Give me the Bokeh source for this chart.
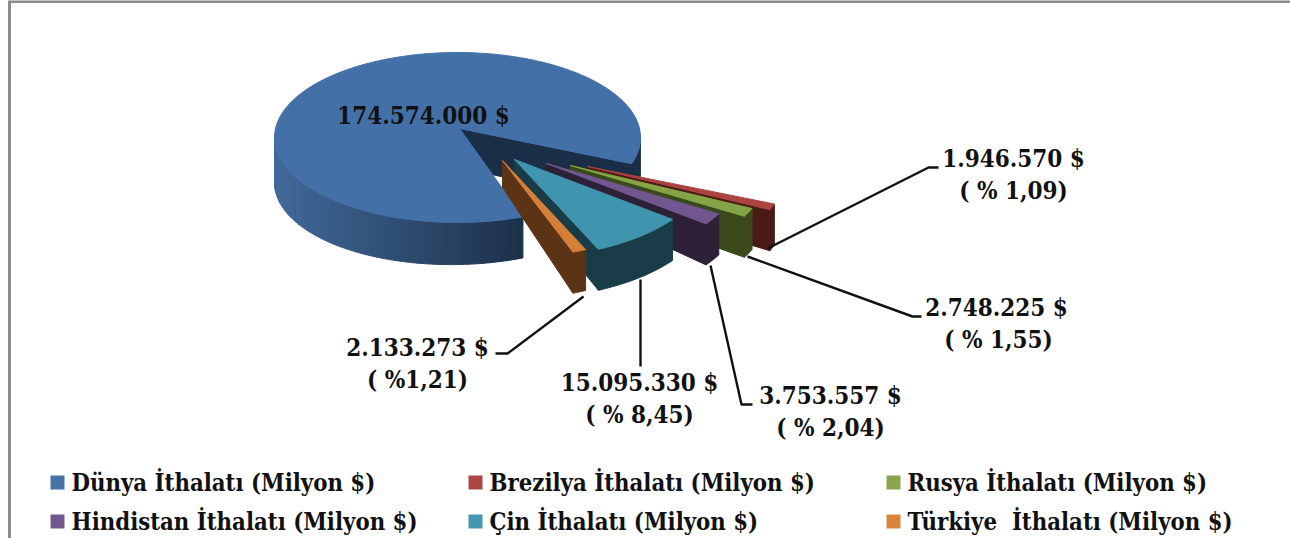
import numpy as np
from bokeh.plotting import figure
from bokeh.models import Range1d
from bokeh.core.properties import value
from bokeh.embed import file_html
from bokeh.resources import INLINE

# ---- data ----
series = ["Dünya İthalatı (Milyon $)", "Brezilya İthalatı (Milyon $)", "Rusya İthalatı (Milyon $)",
          "Hindistan İthalatı (Milyon $)", "Çin İthalatı (Milyon $)", "Türkiye \u00a0İthalatı (Milyon $)"]
values = [174574000, 1946570, 2748225, 3753557, 15095330, 2133273]
top_colors = ["#4470a8", "#a9443f", "#85a446", "#71568f", "#3f95ae", "#d57f37"]
wall_colors = ["#1b2e47", "#4a1a17", "#3a4a1c", "#2d2138", "#193c48", "#5a3415"]
legend_colors = ["#4572a7", "#aa4643", "#89a54e", "#71588f", "#4198af", "#db843d"]
value_labels = ["174.574.000 $", "1.946.570 $", "2.748.225 $", "3.753.557 $", "15.095.330 $", "2.133.273 $"]
share_labels = ["", "( % 1,09)", "( % 1,55)", "( % 2,04)", "( % 8,45)", "( %1,21)"]

# ---- layout (screen-pixel scales) ----
FONT = "DejaVu Serif Condensed"
LABEL_PX = "24px"
rx, ry = 183.0, 85.0
apex0 = np.array([459.0, 128.0])
centre_off = np.array([-2.0, 9.0])
t0 = 18.0
stretch = 1.08
main_trim = 1.2
depth_outer, depth_apex = 41.0, 39.0
explode = {1: (128, 38), 2: (111, 37), 3: (87, 35), 4: (55, 31), 5: (43, 32)}
radial = {1: 1.085, 2: 1.08, 3: 1.07, 4: 1.06, 5: 1.05}
apex_depth = {1: 30, 2: 30, 3: 28, 4: 28, 5: 27}
label_pos = {0: (423, 115), 1: (1013, 158), 2: (996, 307), 3: (830, 395), 4: (639, 382), 5: (417, 347)}
share_pos = {1: (1013, 190), 2: (998, 339), 3: (830, 427), 4: (639, 414), 5: (417, 379)}
leaders = [([767, 928, 938], [248, 167, 167]), ([747, 912, 921], [256, 316, 316]),
           ([710, 741, 752], [265, 404, 404]), ([640, 640], [279, 366]),
           ([583, 507, 495], [296, 353, 353])]
legend_x = [50, 468, 886]
legend_y = [482, 521]

p = figure(width=1290, height=538, output_backend="svg", toolbar_location=None,
           x_range=Range1d(0, 1290), y_range=Range1d(538, 0), min_border=0,
           outline_line_color=None, background_fill_color="white", margin=0)
p.axis.visible = False
p.grid.visible = False

p.line([9, 9], [0, 538], line_color="#8c8c8c", line_width=3)
p.line([8, 1290], [1, 1], line_color="#8c8c8c", line_width=3)

def arc(apex, a, b, k=1.0, n=60):
    t = np.radians(np.linspace(a, b, n))
    c = np.array(apex) + centre_off
    return c[0] + k * rx * np.cos(t), c[1] + k * ry * np.sin(t)

total = float(sum(values))
sweeps = [v / total * 360 for v in values]
small = sum(sweeps[1:]) * stretch
main_a, main_b = t0 + small + main_trim, t0 + 360

def mix(c1, c2, f):
    a = [int(c1[i:i + 2], 16) for i in (1, 3, 5)]
    b = [int(c2[i:i + 2], 16) for i in (1, 3, 5)]
    return "#%02x%02x%02x" % tuple(int(round(x + (y - x) * f)) for x, y in zip(a, b))

# main slice: inner wall, outer wall with shading, top face
x1, y1 = arc(apex0, t0 - 20, t0)
p.patch(list(x1) + list(x1[::-1]), list(y1) + list(y1[::-1] + depth_outer),
        fill_color=wall_colors[0], line_color=wall_colors[0])
ex, ey = arc(apex0, t0, t0, n=1)
p.patch([apex0[0], ex[0], ex[0], apex0[0]],
        [apex0[1], ey[0], ey[0] + depth_outer, apex0[1] + depth_apex],
        fill_color=wall_colors[0], line_color=wall_colors[0])

ta = np.linspace(main_a, 180, 64)
for a, b in zip(ta[:-1], ta[1:]):
    xs, ys = arc(apex0, a, b, n=3)
    fx = (xs.mean() - 274) / (523 - 274)
    col = mix("#41699a", "#1c3049", min(max(fx, 0), 1))
    p.patch(list(xs) + list(xs[::-1]), list(ys) + list(ys[::-1] + depth_outer + 4 * (1 - fx)),
            fill_color=col, line_color=col)

xt, yt = arc(apex0, main_a, main_b, n=240)
p.patch([apex0[0]] + list(xt), [apex0[1]] + list(yt), fill_color=top_colors[0], line_color=top_colors[0])

# exploded slices, back to front
a = t0
for i in range(1, 6):
    b = a + sweeps[i] * stretch
    apex = apex0 + np.array(explode[i])
    d = apex_depth[i]
    xa, ya = arc(apex, a, b, k=radial[i], n=16)
    # outer wall
    p.patch(list(xa) + list(xa[::-1]), list(ya) + list(ya[::-1] + depth_outer),
            fill_color=wall_colors[i], line_color=wall_colors[i])
    # cut wall on the viewer's side
    p.patch([apex[0], xa[-1], xa[-1], apex[0]], [apex[1], ya[-1], ya[-1] + depth_outer, apex[1] + d],
            fill_color=wall_colors[i], line_color=wall_colors[i])
    # top face
    p.patch([apex[0]] + list(xa), [apex[1]] + list(ya), fill_color=top_colors[i], line_color=top_colors[i])
    a = b

# leaders
for lx, ly in leaders:
    p.line(lx, ly, line_color="#111111", line_width=2.4)

# labels
for i, s in enumerate(value_labels):
    p.text([label_pos[i][0]], [label_pos[i][1]], text=[s], text_font=value(FONT), text_font_style="bold",
           text_font_size=LABEL_PX, text_align="center", text_baseline="middle", text_color="#111111")
for i, s in enumerate(share_labels):
    if s:
        p.text([share_pos[i][0]], [share_pos[i][1]], text=[s], text_font=value(FONT), text_font_style="bold",
               text_font_size=LABEL_PX, text_align="center", text_baseline="middle", text_color="#111111")

# legend
for i, s in enumerate(series):
    lx = legend_x[i % 3]
    ly = legend_y[i // 3]
    p.rect([lx + 7], [ly], width=14, height=14, fill_color=legend_colors[i], line_color=None)
    p.text([lx + 21], [ly], text=[s], text_font=value(FONT), text_font_style="bold",
           text_font_size="23.7px", text_align="left", text_baseline="middle", text_color="#111111")

open("out.html", "w").write(file_html(p, INLINE))
